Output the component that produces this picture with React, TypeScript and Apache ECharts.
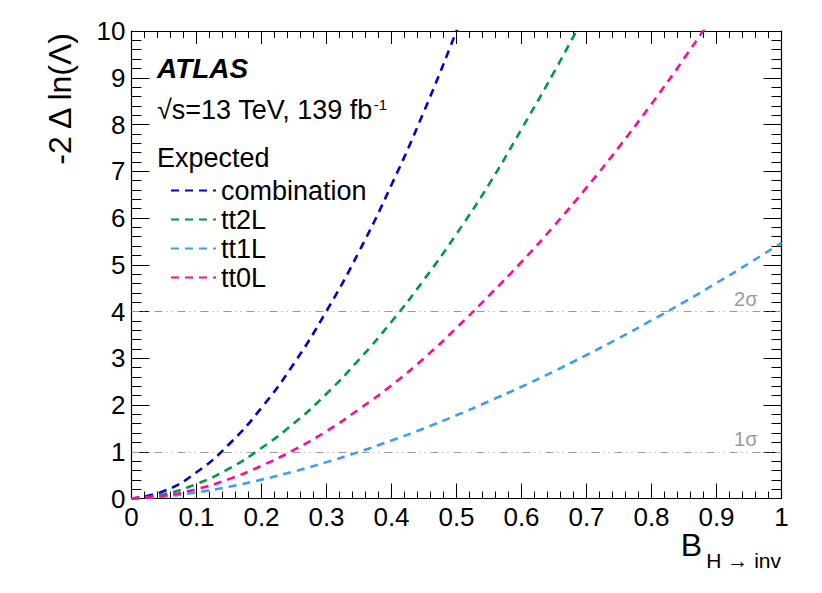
import React, { useEffect, useRef } from "react";
import * as echarts from "echarts";

// B(H->inv) sample points and expected -2 Δ ln(Λ) values
const bComb = [0, 0.05, 0.1, 0.15, 0.2, 0.25, 0.3, 0.35, 0.4, 0.45, 0.5, 0.55];
const combination = [0, 0.16, 0.56, 1.16, 1.94, 2.89, 4.01, 5.28, 6.71, 8.28, 10.0, 11.8];

const b2L = [0, 0.05, 0.1, 0.15, 0.2, 0.25, 0.3, 0.35, 0.4, 0.45, 0.5, 0.55, 0.6, 0.65, 0.7];
const tt2L = [0, 0.09, 0.31, 0.64, 1.08, 1.61, 2.24, 2.97, 3.78, 4.68, 5.66, 6.72, 7.9, 9.12, 10.4];

const b1L = [0, 0.05, 0.1, 0.15, 0.2, 0.25, 0.3, 0.35, 0.4, 0.45, 0.5, 0.55, 0.6, 0.65, 0.7, 0.75, 0.8, 0.85, 0.9, 0.95, 1.0];
const tt1L = [0, 0.043, 0.131, 0.253, 0.404, 0.579, 0.778, 0.998, 1.24, 1.5, 1.78, 2.08, 2.39, 2.72, 3.07, 3.43, 3.81, 4.2, 4.61, 5.03, 5.47];

const b0L = [0, 0.05, 0.1, 0.15, 0.2, 0.25, 0.3, 0.35, 0.4, 0.45, 0.5, 0.55, 0.6, 0.65, 0.7, 0.75, 0.8, 0.85, 0.9];
const tt0L = [0, 0.057, 0.2, 0.415, 0.7, 1.04, 1.44, 1.91, 2.42, 3.0, 3.65, 4.34, 5.06, 5.83, 6.65, 7.52, 8.44, 9.41, 10.43];

const seriesNames = ["combination", "tt2L", "tt1L", "tt0L"];
const seriesColors = ["#0000d0", "#009a3e", "#3d9bff", "#ff0a96"];

const sigmaLevels = [1, 4];
const sigmaLabels = ["1σ", "2σ"];

const FONT = '"Liberation Sans", Arial, Helvetica, sans-serif';

function pairs(xs: number[], ys: number[]) {
  return xs.map((x, i) => [x, ys[i]]);
}

export default function App() {
  const ref = useRef<HTMLDivElement>(null);

  useEffect(() => {
    if (!ref.current) return;
    const chart = echarts.init(ref.current, null, { renderer: "svg" });
    const datasets = [
      pairs(bComb, combination),
      pairs(b2L, tt2L),
      pairs(b1L, tt1L),
      pairs(b0L, tt0L),
    ];
    const series: any[] = datasets.map((d, i) => ({
      name: seriesNames[i],
      type: "line",
      data: d,
      symbol: "none",
      smooth: true,
      clip: true,
      z: 3,
      lineStyle: { color: seriesColors[i], width: 2.6, type: [8, 6] },
      itemStyle: { color: seriesColors[i] },
    }));
    series[0].markLine = {
      silent: true,
      symbol: "none",
      z: 2,
      lineStyle: { color: "#9a9a9a", width: 1.2, type: [8, 4, 1, 4, 1, 5] },
      label: {
        show: true,
        position: "insideEndTop",
        distance: [24, 3],
        color: "#9a9a9a",
        fontSize: 20,
        fontFamily: FONT,
      },
      data: sigmaLevels.map((v, i) => ({
        yAxis: v,
        label: { formatter: sigmaLabels[i] },
      })),
    };

    const axisCommon = {
      type: "value" as const,
      splitLine: { show: false },
      axisLine: { show: true, onZero: false, lineStyle: { color: "#000", width: 1.2 } },
    };

    chart.setOption({
      animation: false,
      textStyle: { fontFamily: FONT },
      grid: { left: 131.5, right: 40.5, top: 31, bottom: 94.5, containLabel: false },
      legend: {
        data: seriesNames,
        orient: "vertical",
        left: 165,
        top: 172,
        itemWidth: 45,
        itemHeight: 14,
        itemGap: 2,
        selectedMode: false,
        itemStyle: { opacity: 0 },
        textStyle: { fontSize: 27, color: "#000", fontFamily: FONT },
      },
      xAxis: [
        {
          ...axisCommon,
          position: "bottom",
          min: 0,
          max: 1,
          interval: 0.1,
          axisTick: { show: true, inside: true, length: 15, lineStyle: { color: "#000" } },
          minorTick: { show: true, splitNumber: 5, length: 7, lineStyle: { color: "#000" } },
          axisLabel: { color: "#000", fontSize: 26, margin: 5, fontFamily: FONT },
        },
        {
          ...axisCommon,
          position: "top",
          min: 0,
          max: 1,
          interval: 0.1,
          axisTick: { show: true, inside: true, length: 13, lineStyle: { color: "#000" } },
          minorTick: { show: true, splitNumber: 5, length: 7, lineStyle: { color: "#000" } },
          axisLabel: { show: false },
        },
      ],
      yAxis: [
        {
          ...axisCommon,
          position: "left",
          min: 0,
          max: 10,
          interval: 1,
          axisTick: { show: true, inside: true, length: 18, lineStyle: { color: "#000" } },
          minorTick: { show: true, splitNumber: 5, length: 10, lineStyle: { color: "#000" } },
          axisLabel: { color: "#000", fontSize: 26, margin: 6, fontFamily: FONT },
        },
        {
          ...axisCommon,
          position: "right",
          min: 0,
          max: 10,
          interval: 1,
          axisTick: { show: true, inside: true, length: 18, lineStyle: { color: "#000" } },
          minorTick: { show: true, splitNumber: 5, length: 10, lineStyle: { color: "#000" } },
          axisLabel: { show: false },
        },
      ],
      series,
      graphic: [
        {
          type: "text",
          x: 60,
          y: 33,
          rotation: Math.PI / 2,
          style: {
            text: "-2 Δ ln(Λ)",
            font: `32px ${FONT}`,
            fill: "#000",
            textAlign: "right",
            textVerticalAlign: "middle",
          },
        },
        {
          type: "text",
          x: 702,
          y: 545,
          style: {
            text: "B",
            font: `32px ${FONT}`,
            fill: "#000",
            textAlign: "right",
            textVerticalAlign: "middle",
          },
        },
        {
          type: "text",
          x: 781,
          y: 560,
          style: {
            text: "H → inv",
            font: `21px ${FONT}`,
            fill: "#000",
            textAlign: "right",
            textVerticalAlign: "middle",
          },
        },
        {
          type: "text",
          x: 157,
          y: 68,
          style: {
            text: "ATLAS",
            font: `italic bold 28px ${FONT}`,
            fill: "#000",
            textAlign: "left",
            textVerticalAlign: "middle",
          },
        },
        {
          type: "text",
          x: 157,
          y: 110,
          style: {
            text: "{m|√s=13 TeV, 139 fb}{s|-1}",
            fill: "#000",
            textAlign: "left",
            textVerticalAlign: "middle",
            rich: {
              m: { fontSize: 27, fontFamily: FONT, fill: "#000" },
              s: { fontSize: 15, fontFamily: FONT, fill: "#000", verticalAlign: "top", padding: [0, 0, 12, 1] },
            },
          },
        },
        {
          type: "text",
          x: 157,
          y: 158,
          style: {
            text: "Expected",
            font: `27px ${FONT}`,
            fill: "#000",
            textAlign: "left",
            textVerticalAlign: "middle",
          },
        },
      ],
    });
    return () => chart.dispose();
  }, []);

  return (
    <div
      ref={ref}
      style={{ position: "absolute", left: 0, top: 0, width: 822, height: 593, background: "#fff" }}
    />
  );
}
